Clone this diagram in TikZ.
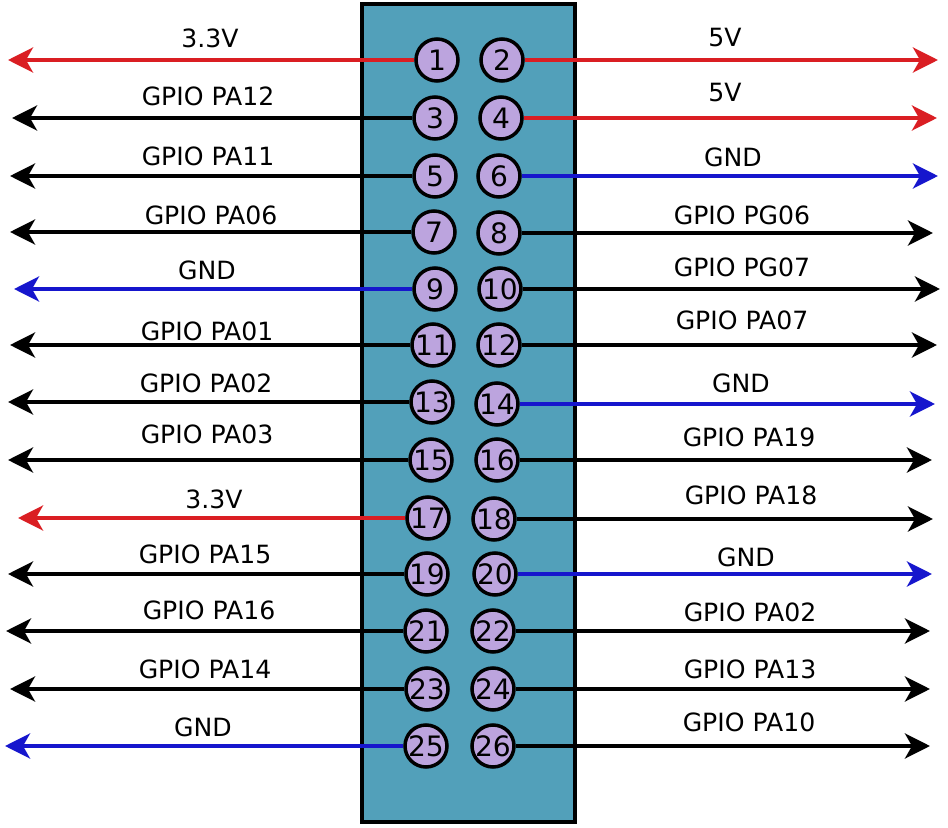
\documentclass[tikz,border=0pt]{standalone}
\usepackage{fontspec}
\setmainfont{DejaVu Sans}
\usetikzlibrary{arrows.meta}
\definecolor{boardfill}{RGB}{82,160,186}
\definecolor{pinfill}{RGB}{188,164,222}
\definecolor{wirered}{RGB}{218,30,35}
\definecolor{wireblue}{RGB}{22,22,205}
\tikzset{
  pin/.style={circle,draw=black,fill=pinfill,line width=0.07cm,minimum size=0.84cm,inner sep=0pt,
    font=\fontsize{16}{18}\selectfont},
  wire/.style={line width=0.08cm,-{Stealth[length=0.5cm,width=0.5cm,inset=0.14cm]}},
  lbl/.style={inner sep=0pt,font=\fontsize{14.3}{17}\selectfont},
}
\begin{document}
\begin{tikzpicture}[x=0.02cm,y=-0.02cm]
                \useasboundingbox (0,0) rectangle (948,828);
                
                % Drawing the board
                \draw [line width=0.09cm,fill=boardfill] (362,4) rectangle (575,822);
                
                % Marking pins
                \node [pin] (p1) at (437,60) {1};
                \node [pin] (p2) at (502,60) {2};
                \node [pin] (p3) at (435,118) {3};
                \node [pin] (p4) at (501,118) {4};
                \node [pin] (p5) at (435,176) {5};
                \node [pin] (p6) at (499,176) {6};
                \node [pin] (p7) at (434,232) {7};
                \node [pin] (p8) at (499,233) {8};
                \node [pin] (p9) at (435,289) {9};
                \node [pin] (p10) at (500,289) {10};
                \node [pin] (p11) at (433,345) {11};
                \node [pin] (p12) at (499,345) {12};
                \node [pin] (p13) at (432,402) {13};
                \node [pin] (p14) at (497,404) {14};
                \node [pin] (p15) at (431,460) {15};
                \node [pin] (p16) at (497,460) {16};
                \node [pin] (p17) at (428,518) {17};
                \node [pin] (p18) at (494,519) {18};
                \node [pin] (p19) at (427,574) {19};
                \node [pin] (p20) at (495,574) {20};
                \node [pin] (p21) at (426,631) {21};
                \node [pin] (p22) at (493,631) {22};
                \node [pin] (p23) at (427,689) {23};
                \node [pin] (p24) at (493,689) {24};
                \node [pin] (p25) at (426,746) {25};
                \node [pin] (p26) at (493,746) {26};
                
                % Arrow ends, left side
                \coordinate (l1) at (8,60);
                \coordinate (l3) at (12,118);
                \coordinate (l5) at (10,176);
                \coordinate (l7) at (10,232);
                \coordinate (l9) at (14,289);
                \coordinate (l11) at (10,345);
                \coordinate (l13) at (8,402);
                \coordinate (l15) at (8,460);
                \coordinate (l17) at (18,518);
                \coordinate (l19) at (8,574);
                \coordinate (l21) at (6,631);
                \coordinate (l23) at (10,689);
                \coordinate (l25) at (5,746);
                
                % Arrow ends, right side
                \coordinate (r2) at (938,60);
                \coordinate (r4) at (937,118);
                \coordinate (r6) at (938,176);
                \coordinate (r8) at (933,233);
                \coordinate (r10) at (940,289);
                \coordinate (r12) at (937,345);
                \coordinate (r14) at (935,404);
                \coordinate (r16) at (932,460);
                \coordinate (r18) at (933,519);
                \coordinate (r20) at (932,574);
                \coordinate (r22) at (930,631);
                \coordinate (r24) at (930,689);
                \coordinate (r26) at (930,746);
                
                % Drawing wires, left side
                \draw [wire,wirered] (p1.west) -- (l1);
                \draw [wire] (p3.west) -- (l3);
                \draw [wire] (p5.west) -- (l5);
                \draw [wire] (p7.west) -- (l7);
                \draw [wire,wireblue] (p9.west) -- (l9);
                \draw [wire] (p11.west) -- (l11);
                \draw [wire] (p13.west) -- (l13);
                \draw [wire] (p15.west) -- (l15);
                \draw [wire,wirered] (p17.west) -- (l17);
                \draw [wire] (p19.west) -- (l19);
                \draw [wire] (p21.west) -- (l21);
                \draw [wire] (p23.west) -- (l23);
                \draw [wire,wireblue] (p25.west) -- (l25);
                
                % Drawing wires, right side
                \draw [wire,wirered] (p2.east) -- (r2);
                \draw [wire,wirered] (p4.east) -- (r4);
                \draw [wire,wireblue] (p6.east) -- (r6);
                \draw [wire] (p8.east) -- (r8);
                \draw [wire] (p10.east) -- (r10);
                \draw [wire] (p12.east) -- (r12);
                \draw [wire,wireblue] (p14.east) -- (r14);
                \draw [wire] (p16.east) -- (r16);
                \draw [wire] (p18.east) -- (r18);
                \draw [wire,wireblue] (p20.east) -- (r20);
                \draw [wire] (p22.east) -- (r22);
                \draw [wire] (p24.east) -- (r24);
                \draw [wire] (p26.east) -- (r26);
                
                % Marking labels, left side
                \node [lbl] (t1) at (210,38) {3.3V};
                \node [lbl] (t3) at (208,96) {GPIO PA12};
                \node [lbl] (t5) at (208,156) {GPIO PA11};
                \node [lbl] (t7) at (211,215) {GPIO PA06};
                \node [lbl] (t9) at (207,270) {GND};
                \node [lbl] (t11) at (207,331) {GPIO PA01};
                \node [lbl] (t13) at (206,383) {GPIO PA02};
                \node [lbl] (t15) at (207,434) {GPIO PA03};
                \node [lbl] (t17) at (214,499) {3.3V};
                \node [lbl] (t19) at (205,554) {GPIO PA15};
                \node [lbl] (t21) at (209,610) {GPIO PA16};
                \node [lbl] (t23) at (205,669) {GPIO PA14};
                \node [lbl] (t25) at (203,727) {GND};
                
                % Marking labels, right side
                \node [lbl] (t2) at (725,38) {5V};
                \node [lbl] (t4) at (725,93) {5V};
                \node [lbl] (t6) at (733,157) {GND};
                \node [lbl] (t8) at (742,215) {GPIO PG06};
                \node [lbl] (t10) at (742,267) {GPIO PG07};
                \node [lbl] (t12) at (742,320) {GPIO PA07};
                \node [lbl] (t14) at (741,383) {GND};
                \node [lbl] (t16) at (749,437) {GPIO PA19};
                \node [lbl] (t18) at (751,495) {GPIO PA18};
                \node [lbl] (t20) at (746,557) {GND};
                \node [lbl] (t22) at (750,612) {GPIO PA02};
                \node [lbl] (t24) at (750,669) {GPIO PA13};
                \node [lbl] (t26) at (749,722) {GPIO PA10};
\end{tikzpicture}
\end{document}
